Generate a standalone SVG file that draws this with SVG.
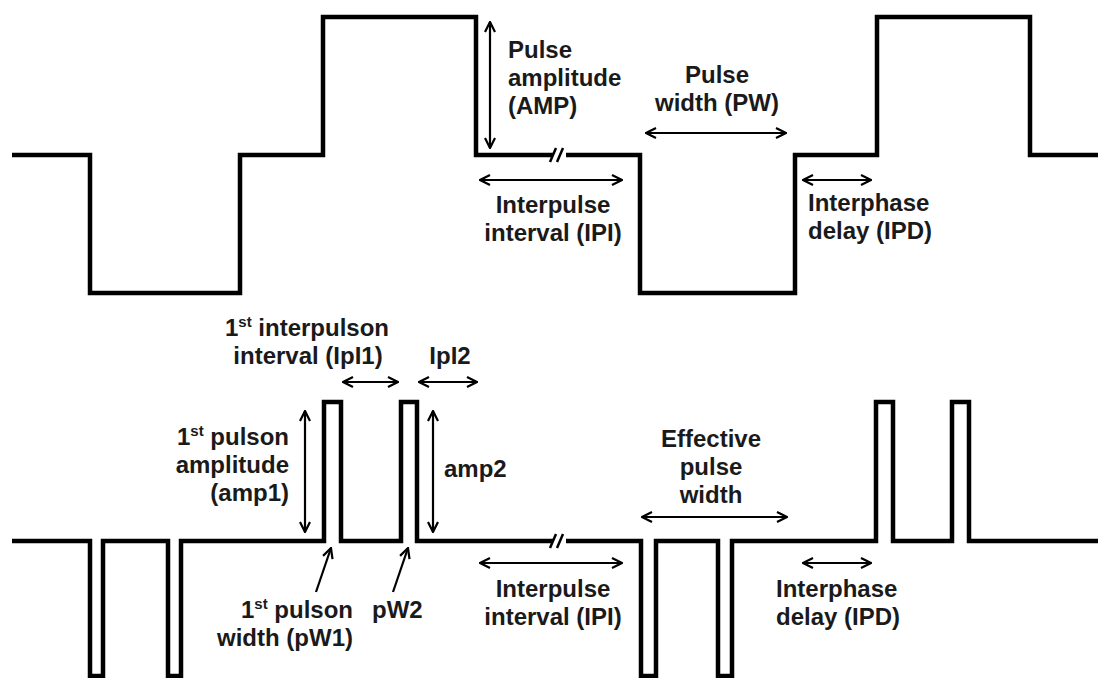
<svg xmlns="http://www.w3.org/2000/svg" width="1098" height="678" viewBox="0 0 1098 678">
<style>
.wave{fill:none;stroke:#000;stroke-width:4.5;stroke-linejoin:miter}
.arr{fill:none;stroke:#000;stroke-width:2.2;marker-start:url(#ah);marker-end:url(#ah)}
.ptr{fill:none;stroke:#000;stroke-width:2.2;marker-end:url(#ah)}
.brk{fill:none;stroke:#000;stroke-width:2.5}
text{font-family:"Liberation Sans",Arial,sans-serif;font-weight:bold;font-size:24px;fill:#1a1a1a}
.m{text-anchor:middle}.e{text-anchor:end}
.sup{font-size:15px}
</style>
<defs>
<marker id="ah" viewBox="0 0 12 12" refX="11" refY="6" markerWidth="12" markerHeight="12" markerUnits="userSpaceOnUse" orient="auto-start-reverse">
<path d="M1,1 L11,6 L1,11" fill="none" stroke="#000" stroke-width="2.2"/>
</marker>
</defs>
<g id="top-waveform">
<path class="wave" d="M12,155 H90 V293 H240 V155 H323 V17 H476 V155 H553"/>
<path class="wave" d="M566,155 H640 V293 H795 V155 H877 V17 H1030 V155 H1100"/>
<path class="brk" d="M550,162 L556,148 M557,162 L563,148"/>
</g>
<g id="bottom-waveform">
<path class="wave" d="M12,541 H90 V676 H103 V541 H168 V676 H181 V541 H324 V402 H341 V541 H401 V402 H417 V541 H553"/>
<path class="wave" d="M566,541 H641 V676 H656 V541 H718 V676 H732 V541 H876 V402 H893 V541 H952 V402 H969 V541 H1100"/>
<path class="brk" d="M550,548 L556,534 M557,548 L563,534"/>
</g>
<g id="connectors">
<path class="arr" d="M490,22 V148"/>
<path class="arr" d="M480,180 H622"/>
<path class="arr" d="M646,133 H786"/>
<path class="arr" d="M803,180 H871"/>
<path class="arr" d="M305,411 V532"/>
<path class="arr" d="M433,411 V532"/>
<path class="arr" d="M343,382 H398"/>
<path class="arr" d="M419,382 H477"/>
<path class="arr" d="M480,563 H622"/>
<path class="arr" d="M642,517 H787"/>
<path class="arr" d="M803,563 H871"/>
<path class="ptr" d="M316,592 L331,548"/>
<path class="ptr" d="M393,592 L408,548"/>
</g>
<g id="label-amp">
<text x="508" y="58">Pulse</text>
<text x="508" y="86">amplitude</text>
<text x="508" y="114">(AMP)</text>
</g>
<g id="label-pw">
<text class="m" x="717" y="83">Pulse</text>
<text class="m" x="717" y="111">width (PW)</text>
</g>
<g id="label-ipi-top">
<text class="m" x="553" y="213">Interpulse</text>
<text class="m" x="553" y="241">interval (IPI)</text>
</g>
<g id="label-ipd-top">
<text x="808" y="211">Interphase</text>
<text x="808" y="239">delay (IPD)</text>
</g>
<g id="label-ipi1">
<text class="m" x="307" y="336">1<tspan class="sup" dy="-9">st</tspan><tspan dy="9"> interpulson</tspan></text>
<text class="m" x="308" y="364">interval (IpI1)</text>
</g>
<g id="label-ipi2">
<text class="m" x="450" y="364">IpI2</text>
</g>
<g id="label-amp1">
<text class="e" x="289" y="445">1<tspan class="sup" dy="-9">st</tspan><tspan dy="9"> pulson</tspan></text>
<text class="e" x="289" y="473">amplitude</text>
<text class="e" x="289" y="501">(amp1)</text>
</g>
<g id="label-amp2">
<text x="444" y="477">amp2</text>
</g>
<g id="label-pw1">
<text class="e" x="353" y="618">1<tspan class="sup" dy="-9">st</tspan><tspan dy="9"> pulson</tspan></text>
<text class="e" x="353" y="646">width (pW1)</text>
</g>
<g id="label-pw2">
<text x="372" y="618">pW2</text>
</g>
<g id="label-ipi-bottom">
<text class="m" x="553" y="597">Interpulse</text>
<text class="m" x="553" y="625">interval (IPI)</text>
</g>
<g id="label-epw">
<text class="m" x="711" y="447">Effective</text>
<text class="m" x="711" y="475">pulse</text>
<text class="m" x="711" y="503">width</text>
</g>
<g id="label-ipd-bottom">
<text x="776" y="597">Interphase</text>
<text x="776" y="625">delay (IPD)</text>
</g>
</svg>
